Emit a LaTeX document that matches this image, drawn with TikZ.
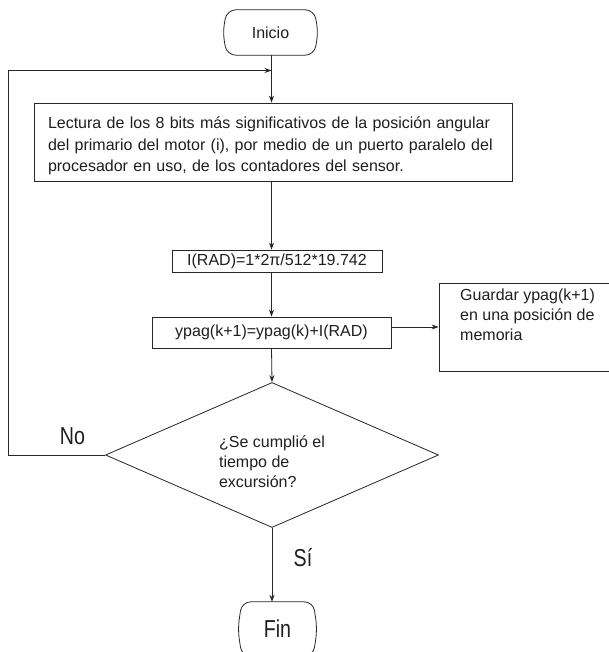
\documentclass[tikz,border=0pt]{standalone}
\usepackage{fontspec}
\setmainfont{Liberation Sans}
\newfontfamily\narrowfont[FakeStretch=0.8]{Liberation Sans}
\usetikzlibrary{arrows.meta,shapes.geometric}

% outline of a start/end terminal: straight top and bottom, bulging sides
\newcommand\termoutline[1]{%
  \draw[line, rounded corners=9pt]
    ([xshift=4pt]#1.north west) -- ([xshift=-4pt]#1.north east) -- (#1.east)
    -- ([xshift=-4pt]#1.south east) -- ([xshift=4pt]#1.south west) -- (#1.west) -- cycle;}

\begin{document}
\begin{tikzpicture}[x=1pt,y=-1pt,
  every node/.style={font=\fontsize{16}{21.5}\selectfont, text=black!88},
  line/.style={draw=black!85, line width=0.8pt},
  arr/.style={line, -{Stealth[length=7pt,width=5pt]}},
  procbox/.style={line, rectangle, inner sep=0pt},
  term/.style={inner sep=0pt},
  txt/.style={inner sep=0pt, align=left, font=\fontsize{16}{20}\selectfont},
  big/.style={inner sep=0pt, font=\narrowfont\fontsize{24.5}{28}\selectfont}]

\clip (0,0) rectangle (609,652);
\fill[white] (0,0) rectangle (609,652);

\coordinate (axis) at (271.5,0);

% start
\node[term, minimum width=95pt, minimum height=45pt] (inicio) at (270.5,32.5) {Inicio};
\termoutline{inicio}

% reading step
\node[procbox, minimum width=478pt, minimum height=78pt] (read) at (273,142) {};
\node[inner sep=0pt, text width=450pt, align=left] (readtxt) at (273,146)
  {Lectura de los 8 bits más significativos de la posición angular\\
   del primario del motor (i), por medio de un puerto paralelo del\\
   procesador en uso, de los contadores del sensor.};

% angle increment
\node[procbox, minimum width=210pt, minimum height=22pt] (calc) at (277,261)
  {I(RAD)=1*2π/512*19.742};

% accumulation
\node[procbox, minimum width=239pt, minimum height=31pt] (acc) at (271.5,332.5)
  {ypag(k+1)=ypag(k)+I(RAD)};

% storage box (runs off the right edge)
\node[procbox, minimum width=192pt, minimum height=88pt] (store) at (535,327) {};
\node[txt, anchor=north west] (storetxt) at (460,289)
  {Guardar ypag(k+1)\\en una posición de\\memoria};

% decision
\node[line, diamond, inner sep=0pt, minimum width=333pt, minimum height=145pt] (dec) at (272,455) {};
\node[txt] (dectxt) at (272,462) {¿Se cumplió el\\tiempo de\\excursión?};

\node[big] (no) at (72.5,436) {No};
\node[big] (si) at (303,558) {Sí};

% end
\node[term, big, minimum width=79pt, minimum height=54pt] (fin) at (277.5,629) {Fin};
\termoutline{fin}

% connectors
\coordinate (lp) at (8,70.5);
\draw[arr] (inicio.south -| axis) -- (read.north -| axis);
\draw[arr] (read.south -| axis) -- (calc.north -| axis);
\draw[arr] (calc.south -| axis) -- (acc.north -| axis);
\draw[arr] (acc.south -| axis) -- (dec.north);
\draw[arr] (acc.east |- store.west) -- (store.west);
\draw[arr] (dec.west) -| (lp) -- (lp -| axis);
\draw[arr] (dec.south) -- (fin.north -| dec.south);
\end{tikzpicture}
\end{document}
